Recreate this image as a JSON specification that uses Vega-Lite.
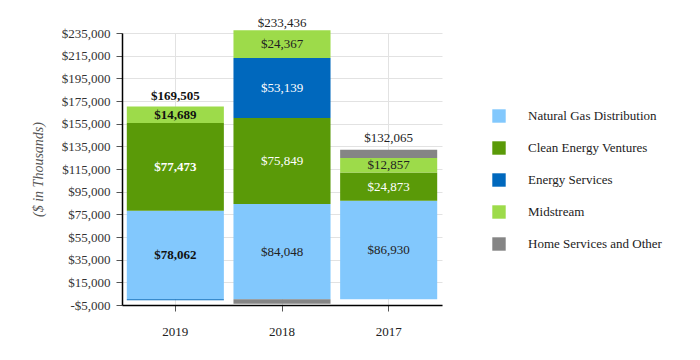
{
  "$schema": "https://vega.github.io/schema/vega-lite/v6.json",
  "width": 320,
  "height": 272,
  "autosize": "none",
  "padding": {"left": 122, "top": 33, "right": 258, "bottom": 55},
  "background": "white",
  "config": {
    "font": "Times New Roman",
    "view": {"stroke": null},
    "axis": {"labelFont": "Times New Roman", "labelFontSize": 13, "labelColor": "#333", "titleFont": "Times New Roman"}
  },
  "data": {
    "values": [
      {"year": "2019", "segment": "Natural Gas Distribution", "value": 78062},
      {"year": "2019", "segment": "Clean Energy Ventures", "value": 77473},
      {"year": "2019", "segment": "Energy Services", "value": -719},
      {"year": "2019", "segment": "Midstream", "value": 14689},
      {"year": "2019", "segment": "Home Services and Other", "value": 0},
      {"year": "2018", "segment": "Natural Gas Distribution", "value": 84048},
      {"year": "2018", "segment": "Clean Energy Ventures", "value": 75849},
      {"year": "2018", "segment": "Energy Services", "value": 53139},
      {"year": "2018", "segment": "Midstream", "value": 24367},
      {"year": "2018", "segment": "Home Services and Other", "value": -3967},
      {"year": "2017", "segment": "Natural Gas Distribution", "value": 86930},
      {"year": "2017", "segment": "Clean Energy Ventures", "value": 24873},
      {"year": "2017", "segment": "Energy Services", "value": 0},
      {"year": "2017", "segment": "Midstream", "value": 12857},
      {"year": "2017", "segment": "Home Services and Other", "value": 7405}
    ]
  },
  "transform": [
    {"calculate": "indexof(['Natural Gas Distribution','Clean Energy Ventures','Energy Services','Midstream','Home Services and Other'], datum.segment)", "as": "ord"}
  ],
  "encoding": {
    "x": {
      "field": "year", "type": "nominal", "sort": ["2019", "2018", "2017"],
      "scale": {"paddingInner": 0.09, "paddingOuter": 0.045},
      "axis": {"title": null, "labelAngle": 0, "domainColor": "#000", "domainWidth": 1.5, "tickColor": "#555", "tickSize": 6, "labelPadding": 14, "grid": true, "bandPosition": 0.5, "gridColor": "#e2e2e2", "labelColor": "#222"}
    }
  },
  "layer": [
    {
      "mark": {"type": "bar"},
      "encoding": {
        "y": {
          "field": "value", "type": "quantitative", "stack": "zero",
          "scale": {"domain": [-5000, 235000], "nice": false, "zero": false},
          "axis": {
            "values": [-5000, 15000, 35000, 55000, 75000, 95000, 115000, 135000, 155000, 175000, 195000, 215000, 235000],
            "tickCount": 30,
            "labelExpr": "datum.value < 0 ? '-$' + format(-datum.value, ',') : '$' + format(datum.value, ',')",
            "labelOverlap": false, "labelFlush": false,
            "title": "($ in Thousands)", "titleFontStyle": "italic", "titleFontWeight": "normal", "titleFontSize": 14, "titleColor": "#555", "titlePadding": 16,
            "domainColor": "#000", "domainWidth": 1.5, "tickColor": "#555", "tickSize": 6, "labelPadding": 6,
            "grid": true, "gridColor": "#e2e2e2"
          }
        },
        "order": {"field": "ord", "type": "quantitative"},
        "color": {
          "field": "segment", "type": "nominal",
          "scale": {
            "domain": ["Natural Gas Distribution", "Clean Energy Ventures", "Energy Services", "Midstream", "Home Services and Other"],
            "range": ["#82c8fd", "#5a9a08", "#0068bd", "#9ddb4a", "#858585"]
          },
          "legend": {
            "title": null, "orient": "none", "legendX": 370, "legendY": 76,
            "symbolType": "square", "symbolSize": 180, "symbolStrokeWidth": 0,
            "labelFont": "Times New Roman", "labelFontSize": 13, "labelColor": "#222",
            "rowPadding": 18, "labelOffset": 22, "labelLimit": 250
          }
        }
      }
    },
    {
      "transform": [
        {"stack": "value", "groupby": ["year"], "sort": [{"field": "ord", "order": "ascending"}], "as": ["y0", "y1"]},
        {"calculate": "(datum.y0 + datum.y1) / 2", "as": "mid"},
        {"filter": "datum.value > 10000 && datum.year == '2019'"}
      ],
      "mark": {"type": "text", "fontSize": 13, "fontWeight": "bold", "baseline": "middle"},
      "encoding": {
        "y": {"field": "mid", "type": "quantitative"},
        "text": {"field": "value", "type": "quantitative", "format": "$,.0f"},
        "color": {"condition": {"test": "datum.segment == 'Clean Energy Ventures' || datum.segment == 'Energy Services'", "value": "white"}, "value": "#111"}
      }
    },
    {
      "transform": [
        {"stack": "value", "groupby": ["year"], "sort": [{"field": "ord", "order": "ascending"}], "as": ["y0", "y1"]},
        {"calculate": "(datum.y0 + datum.y1) / 2", "as": "mid"},
        {"filter": "datum.value > 10000 && datum.year != '2019'"}
      ],
      "mark": {"type": "text", "fontSize": 13, "baseline": "middle"},
      "encoding": {
        "y": {"field": "mid", "type": "quantitative"},
        "text": {"field": "value", "type": "quantitative", "format": "$,.0f"},
        "color": {"condition": {"test": "datum.segment == 'Clean Energy Ventures' || datum.segment == 'Energy Services'", "value": "white"}, "value": "#222"}
      }
    },
    {
      "transform": [
        {"aggregate": [{"op": "sum", "field": "value", "as": "total"}], "groupby": ["year"]},
        {"filter": "datum.year == '2019'"}
      ],
      "mark": {"type": "text", "fontSize": 13, "fontWeight": "bold", "baseline": "bottom", "dy": -4, "color": "#111"},
      "encoding": {
        "y": {"field": "total", "type": "quantitative"},
        "text": {"field": "total", "type": "quantitative", "format": "$,.0f"}
      }
    },
    {
      "transform": [
        {"aggregate": [{"op": "sum", "field": "value", "as": "total"}], "groupby": ["year"]},
        {"filter": "datum.year != '2019'"}
      ],
      "mark": {"type": "text", "fontSize": 13, "baseline": "bottom", "dy": -5, "color": "#222"},
      "encoding": {
        "y": {"field": "total", "type": "quantitative"},
        "text": {"field": "total", "type": "quantitative", "format": "$,.0f"}
      }
    }
  ]
}
